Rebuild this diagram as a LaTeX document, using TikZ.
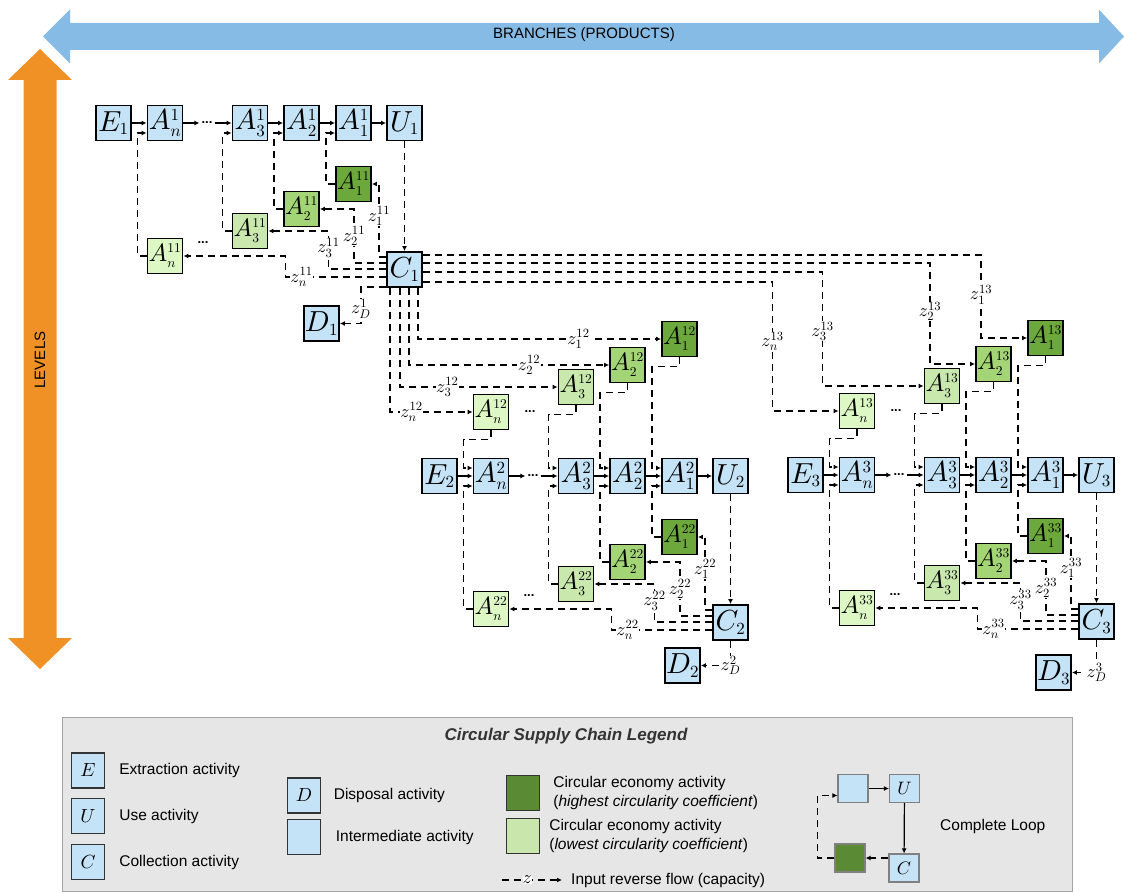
\documentclass[tikz,border=0pt]{standalone}
\usepackage{fontspec}
\setsansfont{Liberation Sans}
\usetikzlibrary{arrows.meta,calc,positioning}

% scalable math letters
\DeclareFontShape{OML}{cmm}{m}{it}{<->cmmi10}{}
\DeclareFontShape{OT1}{cmr}{m}{n}{<->cmr10}{}
\DeclareMathSizes{29}{29}{17}{13}
\DeclareMathSizes{25}{25}{13.5}{10}

\definecolor{actblue}{HTML}{C5E3F6}
\definecolor{ceA}{HTML}{6CA83C}
\definecolor{ceB}{HTML}{A3D475}
\definecolor{ceC}{HTML}{C8E8AE}
\definecolor{ceD}{HTML}{DDF8C4}
\definecolor{legdark}{HTML}{5A8A33}
\definecolor{leglight}{HTML}{C9E7AC}
\definecolor{leggray}{HTML}{E6E6E6}
\definecolor{arrblue}{HTML}{85BBE4}
\definecolor{arrorange}{HTML}{F09125}

\tikzset{
  act/.style={draw=black, line width=1.9pt, fill=actblue, minimum width=35pt,
    minimum height=35pt, inner sep=0pt, font=\fontsize{29}{29}\selectfont},
  ce/.style={act, font=\fontsize{25}{25}\selectfont},
  fwd/.style={line width=1.8pt, -{Latex[length=5pt,width=5pt]}},
  flow/.style={fwd, dash pattern=on 7pt off 5pt},
  zlab/.style={fill=white, inner sep=0.5pt, font=\fontsize{18}{18}\selectfont},
  ellip/.style={inner sep=2pt, font=\sffamily\bfseries\fontsize{13}{13}\selectfont},
  legbox/.style={draw=black!80, line width=1.3pt, fill=actblue, minimum width=33pt,
    minimum height=35pt, inner sep=0pt, font=\fontsize{19}{19}\selectfont},
  loopbox/.style={legbox, draw=gray, line width=1.2pt, minimum width=30pt,
    minimum height=28pt, font=\fontsize{18}{18}\selectfont},
  ltext/.style={font=\sffamily\fontsize{15.5}{19}\selectfont, inner sep=0pt, align=left}
}

\begin{document}
\begin{tikzpicture}[x=1pt,y=-1pt]
  \useasboundingbox (0,0) rectangle (1124,893);
  % big arrows
  \fill[arrblue] (43,36.5) -- (70,9.5) -- (70,23) -- (1099,23) -- (1099,9.5) -- (1124,36.5)
    -- (1099,63.5) -- (1099,50) -- (70,50) -- (70,63.5) -- cycle;
  \fill[arrorange] (40,49) -- (72,80) -- (56.5,80) -- (56.5,638) -- (72,638) -- (40,669)
    -- (8,638) -- (23.5,638) -- (23.5,80) -- (8,80) -- cycle;
  \node[font=\sffamily\fontsize{15}{15}\selectfont] (branches) at (584,35) {BRANCHES (PRODUCTS)};
  \node[font=\sffamily\fontsize{15}{15}\selectfont,rotate=90] (levels) at (40,360) {LEVELS};

  % one supply chain per product
  \foreach \bn/\dx/\dy in {1/0/0, 2/326/353, 3/692/352}{
    \begin{scope}[shift={(\dx,\dy)}]
      \node[act] (E\bn) at (113.5,123) {$E_{\bn}$};
      \node[act] (r\bn-n) at (165,123) {$A_n^{\bn}$};
      \node[ellip] (r\bn-d) at (207,123) {...};
      \node[act] (r\bn-3) at (250,123) {$A_3^{\bn}$};
      \node[act] (r\bn-2) at (301.5,123) {$A_2^{\bn}$};
      \node[act] (r\bn-1) at (353.5,123) {$A_1^{\bn}$};
      \node[act] (U\bn) at (404.5,123) {$U_{\bn}$};
      \node[ce,fill=ceA] (l\bn-1) at (353.5,184) {$A_1^{\bn\bn}$};
      \node[ce,fill=ceB] (l\bn-2) at (301.5,209) {$A_2^{\bn\bn}$};
      \node[ce,fill=ceC] (l\bn-3) at (250,231) {$A_3^{\bn\bn}$};
      \node[ce,fill=ceD] (l\bn-n) at (165,256) {$A_n^{\bn\bn}$};
      \node[ellip] (l\bn-d) at (203,243) {...};
      \node[act] (C\bn) at (404.5,269.5) {$C_{\bn}$};
    \end{scope}
    \draw[fwd] (E\bn) -- (r\bn-n);
    \draw[fwd] (r\bn-n) -- (r\bn-d);
    \draw[fwd] (r\bn-d) -- (r\bn-3);
    \draw[fwd] (r\bn-3) -- (r\bn-2);
    \draw[fwd] (r\bn-2) -- (r\bn-1);
    \draw[fwd] (r\bn-1) -- (U\bn);
    \draw[flow] (U\bn) -- (C\bn);
    \foreach \k in {1,2,3,n}
      \draw[flow] (l\bn-\k.west) -- ++(-9,0) |- ($(r\bn-\k.west)+(0,10)$);
    % reverse flows from collection
    \draw[flow] ($(C\bn.north west)+(0,6)$) -| node[zlab,pos=0.78]{$z_1^{\bn\bn}$}
      ($(l\bn-1.east)+(7,0)$) -- (l\bn-1.east);
    \draw[flow] ($(C\bn.north west)+(0,12)$) -| node[zlab,pos=0.75]{$z_2^{\bn\bn}$}
      ($(l\bn-2.east)+(34,0)$) -- (l\bn-2.east);
    \draw[flow] ($(C\bn.north west)+(0,18)$) -| node[zlab,pos=0.78]{$z_3^{\bn\bn}$}
      ($(l\bn-3.east)+(60,0)$) -- (l\bn-3.east);
    \draw[flow] ($(C\bn.north west)+(0,26)$) -| node[zlab,pos=0.42]{$z_n^{\bn\bn}$}
      ($(l\bn-n.east)+(102,0)$) -- (l\bn-n.east);
  }

  % inputs coming from level 1
  \foreach \bn/\dx/\dy in {2/326/353, 3/692/352}{
    \begin{scope}[shift={(\dx,\dy)}]
      \node[ce,fill=ceA] (x\bn-1) at (353.5,-14) {$A_1^{1\bn}$};
      \node[ce,fill=ceB] (x\bn-2) at (301.5,12) {$A_2^{1\bn}$};
      \node[ce,fill=ceC] (x\bn-3) at (250,34) {$A_3^{1\bn}$};
      \node[ce,fill=ceD] (x\bn-n) at (165,59) {$A_n^{1\bn}$};
      \node[ellip] (x\bn-d) at (204,59) {...};
    \end{scope}
    \foreach \k in {1,2,3,n}
      \draw[flow] (x\bn-\k.south) -- ++(0,9) -| ($(r\bn-\k.west)+(-9,-8)$) -- ($(r\bn-\k.west)+(0,-8)$);
  }
  \draw[flow] ($(C1.south west)+(32,0)$) |- node[zlab,pos=0.83]{$z_1^{12}$} (x2-1.west);
  \draw[flow] ($(C1.south west)+(23,0)$) |- node[zlab,pos=0.8]{$z_2^{12}$} (x2-2.west);
  \draw[flow] ($(C1.south west)+(14,0)$) |- node[zlab,pos=0.65]{$z_3^{12}$} (x2-3.west);
  \draw[flow] ($(C1.south west)+(4,0)$) |- node[zlab,pos=0.63]{$z_n^{12}$} (x2-n.west);
  \draw[flow] ($(C1.north east)+(0,4)$) -| node[zlab,pos=0.74]{$z_1^{13}$}
    ($(x3-1.west)+(-46,0)$) -- (x3-1.west);
  \draw[flow] ($(C1.north east)+(0,12)$) -| node[zlab,pos=0.74]{$z_2^{13}$}
    ($(x3-2.west)+(-45,0)$) -- (x3-2.west);
  \draw[flow] ($(C1.north east)+(0,21)$) -| node[zlab,pos=0.76]{$z_3^{13}$}
    ($(x3-3.west)+(-101,0)$) -- (x3-3.west);
  \draw[flow] ($(C1.north east)+(0,31)$) -| node[zlab,pos=0.73]{$z_n^{13}$}
    ($(x3-n.west)+(-66,0)$) -- (x3-n.west);

  % disposal
  \node[act] (D1) at (321.5,323.5) {$D_1$};
  \node[act] (D2) at (682.5,665.5) {$D_2$};
  \node[act] (D3) at (1053.5,672.5) {$D_3$};
  \draw[flow] ($(C1.south west)+(0,-1)$) -| node[zlab,pos=0.8]{$z_D^1$}
    ($(D1.east)+(21,0)$) -- (D1.east);
  \draw[flow] (C2.south) |- node[zlab,pos=0.5]{$z_D^2$} (D2.east);
  \draw[flow] (C3.south) |- node[zlab,pos=0.5]{$z_D^3$} (D3.east);

  % legend
  \draw[draw=gray!70, fill=leggray, line width=1pt] (62,717) rectangle (1072,891);
  \node[font=\sffamily\bfseries\itshape\fontsize{17}{17}\selectfont, text=black!80] (legtitle)
    at (566,736) {Circular Supply Chain Legend};
  \node[legbox] (kE) at (88,770.5) {$E$};
  \node[legbox] (kU) at (88,816) {$U$};
  \node[legbox] (kC) at (88,862) {$C$};
  \node[legbox] (kD) at (304,795.5) {$D$};
  \node[legbox] (kI) at (304,837) {};
  \node[legbox,fill=legdark] (kH) at (523,793) {};
  \node[legbox,fill=leglight] (kL) at (523,836) {};
  \node[ltext,right=14pt of kE] (tE) {Extraction activity};
  \node[ltext,right=14pt of kU] (tU) {Use activity};
  \node[ltext,right=14pt of kC] (tC) {Collection activity};
  \node[ltext,right=12.5pt of kD] (tD) {Disposal activity};
  \node[ltext,right=14.5pt of kI] (tI) {Intermediate activity};
  \node[ltext,right=13pt of kH] (tH) {Circular economy activity\\(\textit{highest circularity coefficient})};
  \node[ltext,right=9pt of kL] (tL) {Circular economy activity\\(\textit{lowest circularity coefficient})};
  \node[ltext,anchor=west] (tF) at (571,880) {Input reverse flow (capacity)};
  \coordinate (fsA) at (502,880);
  \draw[flow,line width=1.2pt] (fsA) -- node[zlab,pos=0.42,inner sep=0pt]{$z$} ($(tF.west)+(-9,0)$);
  % complete loop
  \node[loopbox] (mB) at (853,788.5) {};
  \node[loopbox] (mU) at (904.5,788.5) {$U$};
  \node[loopbox] (mC) at (904,868) {$C$};
  \node[loopbox,fill=legdark] (mG) at (850,858) {};
  \draw[fwd,line width=1.2pt] (mB) -- (mU);
  \draw[fwd,line width=1.2pt] (mU) -- (mC);
  \draw[flow,line width=1.2pt] (mC.west |- mG) -- (mG.east);
  \draw[flow,line width=1.2pt] (mG.west) -- ++(-17,0) |- ($(mB.west)+(0,7)$);
  \node[ltext,anchor=west] (tLoop) at (940,826) {Complete Loop};
\end{tikzpicture}
\end{document}
